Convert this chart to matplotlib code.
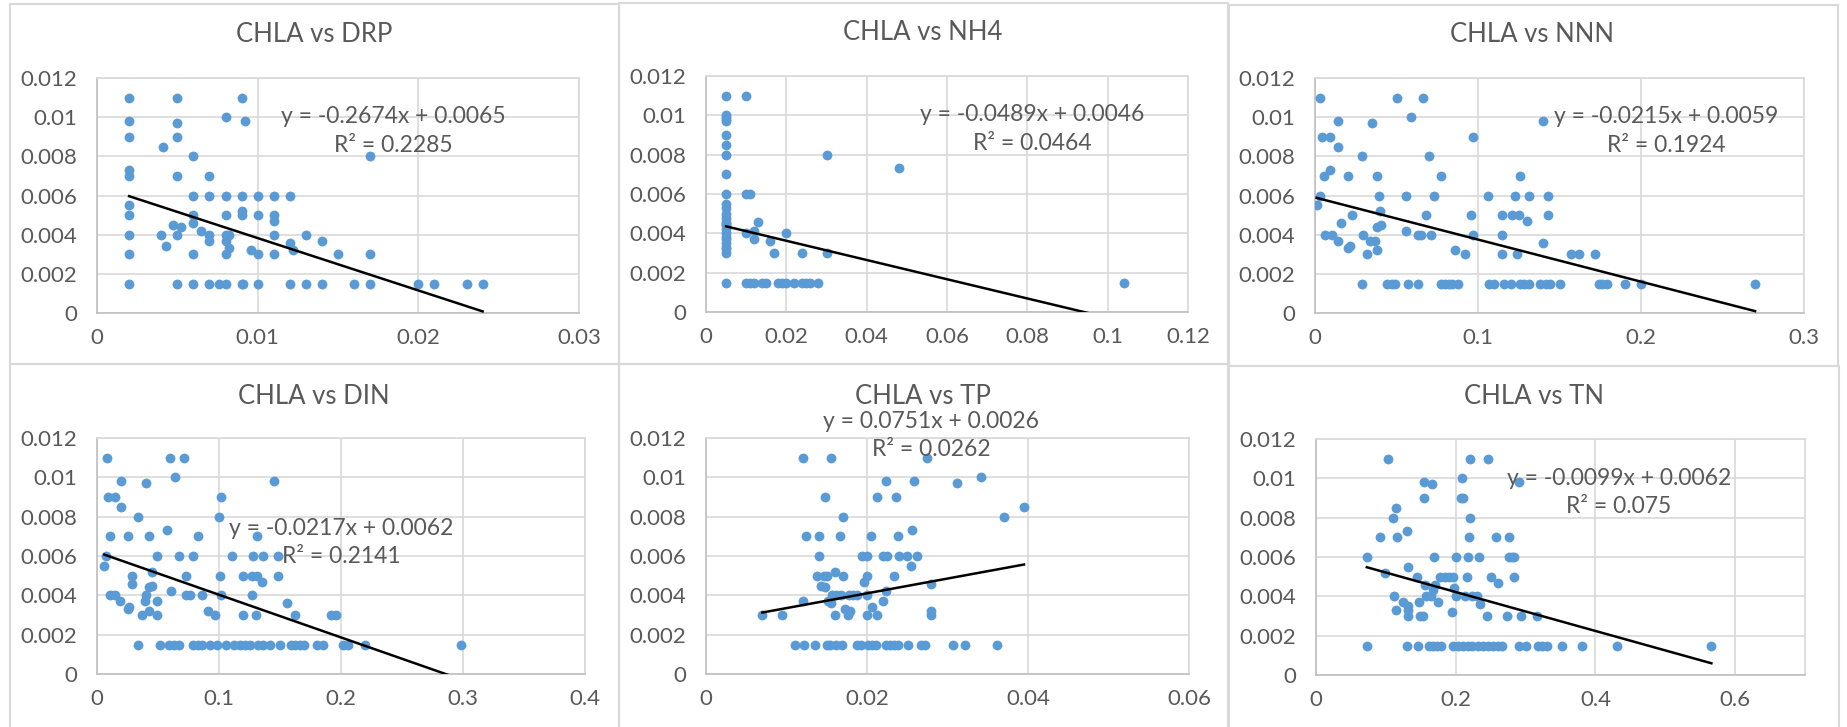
import numpy as np
import matplotlib
matplotlib.use("Agg")
import matplotlib.pyplot as plt
from matplotlib.ticker import MultipleLocator, FuncFormatter
from matplotlib.patches import Rectangle

plt.rcParams['font.family'] = ['Lato', 'DejaVu Sans']

# ---- data ----
drp_x = [0.002, 0.002, 0.002, 0.002, 0.002, 0.002, 0.002, 0.002, 0.002, 0.002,
         0.005, 0.005, 0.005, 0.005, 0.005, 0.005,
         0.0041, 0.004, 0.0043, 0.0047, 0.0052,
         0.006, 0.006, 0.006, 0.006, 0.006, 0.006,
         0.0065,
         0.007, 0.007, 0.007, 0.007, 0.007,
         0.0076,
         0.008, 0.008, 0.008, 0.008, 0.008, 0.008, 0.008,
         0.0082, 0.0082,
         0.009, 0.009, 0.009, 0.009, 0.009,
         0.0092, 0.0091, 0.0096,
         0.010, 0.010, 0.010, 0.010,
         0.011, 0.011, 0.011, 0.011, 0.011,
         0.012, 0.012, 0.012, 0.0122,
         0.013, 0.013, 0.014, 0.014, 0.015, 0.016,
         0.017, 0.017, 0.017,
         0.020, 0.021, 0.023, 0.024]
drp_y = [0.011, 0.0098, 0.009, 0.0073, 0.007, 0.0055, 0.005, 0.004, 0.003, 0.0015,
         0.011, 0.0097, 0.009, 0.007, 0.004, 0.0015,
         0.0085, 0.004, 0.0034, 0.0045, 0.0044,
         0.008, 0.006, 0.005, 0.0046, 0.003, 0.0015,
         0.0042,
         0.007, 0.006, 0.004, 0.0037, 0.0015,
         0.0015,
         0.010, 0.006, 0.005, 0.004, 0.0037, 0.003, 0.0015,
         0.0033, 0.004,
         0.011, 0.006, 0.0052, 0.005, 0.0015,
         0.0098, 0.0015, 0.0032,
         0.006, 0.005, 0.003, 0.0015,
         0.006, 0.005, 0.0047, 0.004, 0.003,
         0.006, 0.0036, 0.0015, 0.0032,
         0.004, 0.0015, 0.0037, 0.0015, 0.003, 0.0015,
         0.008, 0.003, 0.0015,
         0.0015, 0.0015, 0.0015, 0.0015]

nh4_x = [0.005, 0.005, 0.005, 0.005, 0.005, 0.005, 0.005, 0.005, 0.005, 0.005,
         0.005, 0.005, 0.005, 0.005, 0.005, 0.005, 0.005, 0.005, 0.005, 0.005,
         0.005, 0.005, 0.005, 0.005, 0.005, 0.005,
         0.010, 0.010, 0.010, 0.010, 0.011, 0.011, 0.012, 0.012, 0.012, 0.013,
         0.014, 0.015, 0.016, 0.017, 0.018, 0.019, 0.020, 0.020, 0.022, 0.024,
         0.024, 0.025, 0.026, 0.028, 0.030, 0.030, 0.048, 0.104]
nh4_y = [0.011, 0.010, 0.0099, 0.0098, 0.0097, 0.009, 0.0085, 0.008, 0.007, 0.006,
         0.0055, 0.0053, 0.005, 0.0048, 0.0046, 0.0045, 0.0044, 0.0042, 0.004, 0.0038,
         0.0037, 0.0035, 0.0033, 0.0032, 0.003, 0.0015,
         0.011, 0.006, 0.004, 0.0015, 0.006, 0.0015, 0.0041, 0.0037, 0.0015, 0.0046,
         0.0015, 0.0015, 0.0036, 0.003, 0.0015, 0.0015, 0.004, 0.0015, 0.0015, 0.003,
         0.0015, 0.0015, 0.0015, 0.0015, 0.008, 0.003, 0.0073, 0.0015]

nnn_x = [0.001, 0.003, 0.003, 0.004, 0.0055, 0.006, 0.009, 0.0093, 0.0102, 0.014,
         0.014, 0.0141, 0.016, 0.020, 0.0204, 0.0214, 0.0229, 0.029, 0.029, 0.0297,
         0.032, 0.0336, 0.035, 0.037, 0.038, 0.038, 0.038, 0.039, 0.040, 0.0405,
         0.044, 0.047, 0.049, 0.050, 0.056, 0.056, 0.057, 0.059, 0.063, 0.063,
         0.065, 0.066, 0.068, 0.070, 0.071, 0.073, 0.077, 0.077, 0.080, 0.082,
         0.084, 0.088, 0.086, 0.092, 0.096, 0.097, 0.097, 0.106, 0.107, 0.110,
         0.115, 0.115, 0.115, 0.116, 0.120, 0.121, 0.123, 0.124, 0.125, 0.126,
         0.126, 0.128, 0.131, 0.130, 0.131, 0.138, 0.140, 0.140, 0.142, 0.144,
         0.143, 0.143, 0.150, 0.157, 0.162, 0.172, 0.174, 0.176, 0.179, 0.190,
         0.200, 0.270]
nnn_y = [0.0055, 0.011, 0.006, 0.009, 0.007, 0.004, 0.009, 0.0073, 0.004, 0.0098,
         0.0085, 0.0037, 0.0046, 0.007, 0.0033, 0.0034, 0.005, 0.008, 0.0015, 0.004,
         0.003, 0.0037, 0.0097, 0.0037, 0.007, 0.0032, 0.0044, 0.006, 0.0052, 0.0045,
         0.0015, 0.0015, 0.0015, 0.011, 0.006, 0.0042, 0.0015, 0.010, 0.004, 0.0015,
         0.004, 0.011, 0.005, 0.008, 0.004, 0.006, 0.007, 0.0015, 0.0015, 0.0015,
         0.0015, 0.0015, 0.0032, 0.003, 0.005, 0.009, 0.004, 0.006, 0.0015, 0.0015,
         0.005, 0.004, 0.003, 0.0015, 0.0015, 0.005, 0.006, 0.003, 0.005, 0.007,
         0.0015, 0.0015, 0.0015, 0.0047, 0.006, 0.0015, 0.0036, 0.0098, 0.0015, 0.0015,
         0.006, 0.005, 0.0015, 0.003, 0.003, 0.003, 0.0015, 0.0015, 0.0015, 0.0015,
         0.0015, 0.0015]

din_x = [0.006, 0.0074, 0.008, 0.009, 0.011, 0.011, 0.0146, 0.015, 0.019, 0.0194,
         0.0194, 0.025, 0.025, 0.026, 0.0285, 0.029, 0.034, 0.034, 0.037, 0.039,
         0.040, 0.040, 0.043, 0.043, 0.043, 0.045, 0.045, 0.049, 0.049, 0.049,
         0.052, 0.057, 0.060, 0.059, 0.063, 0.067, 0.061, 0.064, 0.067, 0.071,
         0.073, 0.073, 0.076, 0.079, 0.079, 0.083, 0.086, 0.083, 0.086, 0.091,
         0.093, 0.098, 0.097, 0.100, 0.102, 0.101, 0.102, 0.106, 0.112, 0.111,
         0.117, 0.121, 0.125, 0.120, 0.120, 0.127, 0.128, 0.127, 0.131, 0.130,
         0.131, 0.132, 0.136, 0.135, 0.136, 0.142, 0.145, 0.148, 0.148, 0.150,
         0.156, 0.159, 0.162, 0.166, 0.170, 0.162, 0.180, 0.185, 0.192, 0.196,
         0.202, 0.206, 0.220, 0.298]
din_y = [0.0055, 0.006, 0.011, 0.009, 0.007, 0.004, 0.009, 0.004, 0.0037, 0.0098,
         0.0085, 0.007, 0.0033, 0.0034, 0.005, 0.0046, 0.008, 0.0015, 0.003, 0.0037,
         0.004, 0.0097, 0.007, 0.0032, 0.0044, 0.0052, 0.0045, 0.006, 0.0037, 0.003,
         0.0015, 0.0073, 0.011, 0.0015, 0.0015, 0.0015, 0.0042, 0.010, 0.006, 0.011,
         0.005, 0.004, 0.004, 0.006, 0.0015, 0.0015, 0.0015, 0.007, 0.004, 0.0032,
         0.0015, 0.0015, 0.003, 0.008, 0.009, 0.005, 0.004, 0.0015, 0.0015, 0.006,
         0.0015, 0.0015, 0.0015, 0.005, 0.003, 0.004, 0.006, 0.005, 0.005, 0.003,
         0.007, 0.0015, 0.0015, 0.0047, 0.006, 0.0015, 0.0098, 0.006, 0.005, 0.0015,
         0.0036, 0.0015, 0.0015, 0.0015, 0.0015, 0.003, 0.0015, 0.0015, 0.003, 0.003,
         0.0015, 0.0015, 0.0015, 0.0015]

tp_x = [0.007, 0.0095, 0.011, 0.012, 0.012, 0.0122, 0.0124, 0.0136, 0.0138, 0.014,
        0.014, 0.0143, 0.0146, 0.0148, 0.0148, 0.015, 0.0154, 0.015, 0.0151, 0.0155,
        0.0155, 0.0156, 0.016, 0.016, 0.0162, 0.0162, 0.0167, 0.0168, 0.017, 0.017,
        0.0169, 0.0173, 0.0176, 0.0178, 0.0179, 0.0183, 0.0187, 0.0192, 0.0188, 0.0194,
        0.0196, 0.020, 0.020, 0.020, 0.020, 0.0201, 0.0206, 0.0211, 0.0205, 0.0206,
        0.0212, 0.0213, 0.022, 0.022, 0.0223, 0.0223, 0.0223, 0.0228, 0.0234, 0.0239,
        0.0225, 0.0234, 0.0236, 0.0239, 0.024, 0.025, 0.0251, 0.0255, 0.0256, 0.0259,
        0.0262, 0.0267, 0.0272, 0.0274, 0.0279, 0.0279, 0.0279, 0.0307, 0.0312, 0.0322,
        0.0341, 0.0362, 0.037, 0.0395]
tp_y = [0.003, 0.003, 0.0015, 0.011, 0.0037, 0.0015, 0.007, 0.0015, 0.005, 0.007,
        0.006, 0.0045, 0.005, 0.009, 0.0044, 0.0015, 0.0015, 0.005, 0.0037, 0.011,
        0.0036, 0.004, 0.003, 0.0052, 0.004, 0.0015, 0.007, 0.004, 0.008, 0.005,
        0.0015, 0.0033, 0.003, 0.004, 0.0032, 0.004, 0.0015, 0.0015, 0.004, 0.006,
        0.0047, 0.005, 0.006, 0.004, 0.003, 0.0015, 0.0015, 0.0015, 0.007, 0.0034,
        0.003, 0.009, 0.006, 0.0037, 0.0098, 0.0042, 0.0015, 0.0015, 0.0015, 0.0015,
        0.006, 0.005, 0.009, 0.007, 0.006, 0.006, 0.0015, 0.0055, 0.0073, 0.0098,
        0.006, 0.0015, 0.0015, 0.011, 0.0046, 0.0032, 0.003, 0.0015, 0.0097, 0.0015,
        0.010, 0.0015, 0.008, 0.0085]

tn_x = [0.0727, 0.0727, 0.091, 0.099, 0.103, 0.110, 0.111, 0.115, 0.115, 0.116,
        0.125, 0.130, 0.130, 0.131, 0.132, 0.132, 0.132, 0.144, 0.146, 0.148,
        0.149, 0.153, 0.154, 0.154, 0.156, 0.158, 0.162, 0.167, 0.173, 0.179,
        0.165, 0.166, 0.168, 0.169, 0.170, 0.175, 0.178, 0.185, 0.190, 0.196,
        0.194, 0.197, 0.200, 0.201, 0.196, 0.203, 0.210, 0.217, 0.224, 0.232,
        0.239, 0.246, 0.253, 0.260, 0.266, 0.207, 0.210, 0.209, 0.214, 0.216,
        0.217, 0.219, 0.220, 0.220, 0.224, 0.231, 0.234, 0.235, 0.245, 0.246,
        0.251, 0.258, 0.260, 0.273, 0.276, 0.276, 0.280, 0.284, 0.283, 0.290,
        0.301, 0.290, 0.293, 0.317, 0.318, 0.324, 0.331, 0.352, 0.381, 0.431,
        0.566]
tn_y = [0.006, 0.0015, 0.007, 0.0052, 0.011, 0.008, 0.004, 0.0085, 0.0033, 0.007,
        0.0037, 0.0073, 0.0015, 0.0035, 0.0033, 0.003, 0.0055, 0.005, 0.0015, 0.0037,
        0.003, 0.003, 0.0098, 0.009, 0.0046, 0.004, 0.0015, 0.0015, 0.0015, 0.0015,
        0.004, 0.0097, 0.0043, 0.006, 0.0046, 0.0037, 0.005, 0.005, 0.005, 0.005,
        0.0032, 0.0044, 0.004, 0.006, 0.0015, 0.0015, 0.0015, 0.0015, 0.0015, 0.0015,
        0.0015, 0.0015, 0.0015, 0.0015, 0.0015, 0.009, 0.009, 0.010, 0.004, 0.005,
        0.006, 0.007, 0.011, 0.008, 0.004, 0.004, 0.006, 0.0036, 0.003, 0.011,
        0.005, 0.007, 0.0047, 0.003, 0.007, 0.006, 0.006, 0.006, 0.005, 0.0015,
        0.0015, 0.0098, 0.003, 0.003, 0.0015, 0.0015, 0.0015, 0.0015, 0.0015, 0.0015,
        0.0015]

titles = ["CHLA vs DRP", "CHLA vs NH4", "CHLA vs NNN", "CHLA vs DIN", "CHLA vs TP", "CHLA vs TN"]
slopes = [-0.2674, -0.0489, -0.0215, -0.0217, 0.0751, -0.0099]
intercepts = [0.0065, 0.0046, 0.0059, 0.0062, 0.0026, 0.0062]
r2_labels = ["0.2285", "0.0464", "0.1924", "0.2141", "0.0262", "0.075"]
x_max = [0.03, 0.12, 0.3, 0.4, 0.06, 0.7]
x_step = [0.01, 0.02, 0.1, 0.1, 0.02, 0.2]
xs = [drp_x, nh4_x, nnn_x, din_x, tp_x, tn_x]
ys = [drp_y, nh4_y, nnn_y, din_y, tp_y, tn_y]

# ---- layout in pixels (figure is 1847 x 727) ----
W, H = 1847, 727
axes_px = [(97, 78, 579, 313), (706, 76, 1188, 312), (1315, 78, 1804, 313),
           (97, 438, 585, 674), (706, 438, 1189, 674), (1316, 439, 1805, 675)]
frames_px = [(10, 4, 619, 364), (619, 3, 1228, 364), (1229, 5, 1838, 366),
             (10, 364, 619, 740), (619, 364, 1228, 740), (1229, 366, 1839, 740)]
title_px = [(314, 35), (923, 33), (1532, 35), (314, 397), (923, 397), (1534, 397)]
# equation label centre (axes fraction) and the R2 line below it
eq_pos = [(0.615, 0.835, 0.714), (0.677, 0.836, 0.713), (0.718, 0.835, 0.714),
          (0.50, 0.616, 0.496), (0.466, 1.071, 0.95), (0.619, 0.833, 0.713)]

grey_txt = '#595959'
dot_col = '#5B9BD5'
grid_col = '#D9D9D9'

fig = plt.figure(figsize=(W / 100, H / 100), dpi=100)
fig.patch.set_facecolor('white')

for x0, y0, x1, y1 in frames_px:
    fig.add_artist(Rectangle((x0 / W, 1 - y1 / H), (x1 - x0) / W, (y1 - y0) / H,
                             transform=fig.transFigure, fill=False,
                             ec='#D9D9D9', lw=1.5))

def fmt(v, pos):
    return '%g' % round(v, 6)

for i in range(6):
    l, t, r, b = axes_px[i]
    ax = fig.add_axes([l / W, 1 - b / H, (r - l) / W, (b - t) / H])
    x = np.array(xs[i])
    y = np.array(ys[i])
    ax.scatter(x, y, s=50, color=dot_col, linewidths=0, zorder=3)
    xl = np.array([x.min(), x.max()])
    ax.plot(xl, slopes[i] * xl + intercepts[i], color='black', lw=1.8, zorder=4)

    ax.set_xlim(0, x_max[i])
    ax.set_ylim(0, 0.012)
    ax.xaxis.set_major_locator(MultipleLocator(x_step[i]))
    ax.yaxis.set_major_locator(MultipleLocator(0.002))
    ax.xaxis.set_major_formatter(FuncFormatter(fmt))
    ax.yaxis.set_major_formatter(FuncFormatter(fmt))
    ax.grid(True, color=grid_col, lw=1.2)
    ax.set_axisbelow(True)
    ax.tick_params(axis='both', length=0, labelsize=16, colors=grey_txt)
    ax.tick_params(axis='x', pad=11)
    ax.tick_params(axis='y', pad=14)
    for sp in ax.spines.values():
        sp.set_color(grid_col)
        sp.set_linewidth(1.2)
    ax.spines['bottom'].set_color('#BFBFBF')
    ax.spines['left'].set_color('#BFBFBF')

    sgn = '-' if intercepts[i] < 0 else '+'
    eq = 'y = %.4fx %s %.4f' % (slopes[i], sgn, abs(intercepts[i]))
    ex, ey1, ey2 = eq_pos[i]
    ax.text(ex, ey1, eq, transform=ax.transAxes, ha='center', va='center',
            fontsize=16.5, color=grey_txt, zorder=5, clip_on=False)
    ax.text(ex, ey2, 'R² = ' + r2_labels[i], transform=ax.transAxes,
            ha='center', va='center', fontsize=16.5, color=grey_txt, zorder=5,
            clip_on=False)

    tx, ty = title_px[i]
    fig.text(tx / W, 1 - ty / H, titles[i], ha='center', va='center',
             fontsize=18.5, color=grey_txt)

fig.savefig('out.png', dpi=100)
